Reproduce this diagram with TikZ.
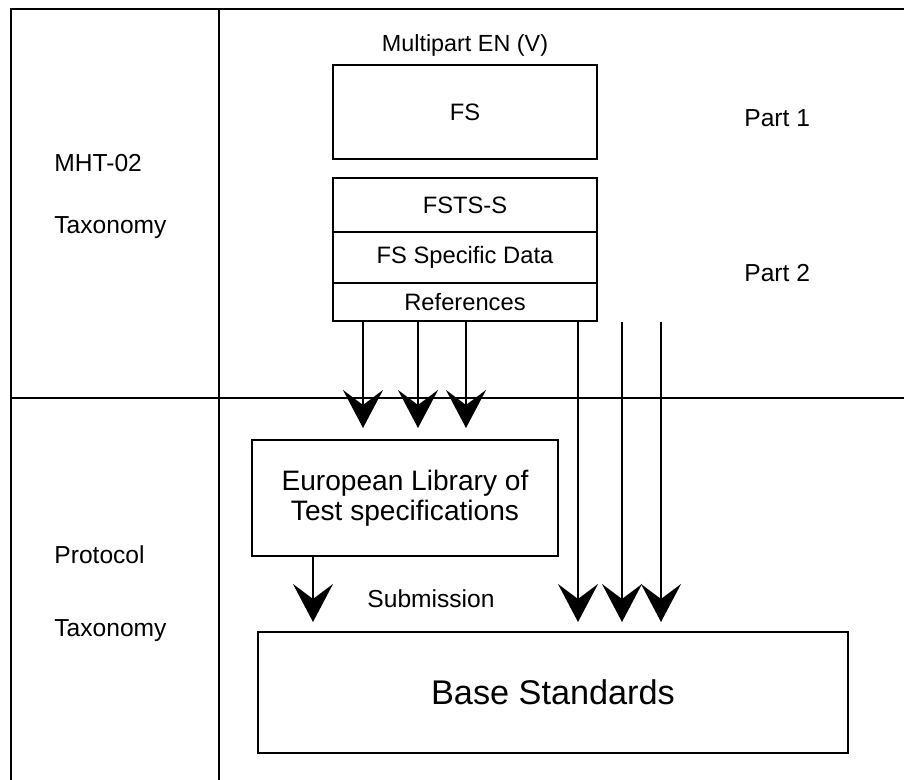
\documentclass[tikz,border=0pt]{standalone}
\usepackage{fontspec}
\setmainfont{Liberation Sans}
\usetikzlibrary{arrows.meta}
\tikzstyle{box}=[rectangle,draw=black!100,line width=1.6pt,inner sep=0pt,
font=\fontsize{13.5}{16}\selectfont]
\tikzstyle{txt}=[inner sep=0pt,font=\fontsize{14}{16}\selectfont]
\tikzstyle{flow}=[-{Stealth[length=0.76cm,width=0.8cm,inset=0.3cm]},
line width=1.2pt]

\begin{document}
\begin{tikzpicture}[x=0.02cm,y=-0.02cm,line width=1.6pt]

	\useasboundingbox (0,0) rectangle (904,780);

	\draw (904,9) -- (11,9) -- (11,780);
	\draw (219,9) -- (219,780);
	\draw (11,398) -- (904,398);

	\node  (mpen)  at (465,45)    [txt,font=\fontsize{13.3}{16}\selectfont] {Multipart EN (V)};
	\node  (fs)    at (465,112)   [box,minimum width=5.28cm,minimum height=1.88cm] {FS};
	\node  (fsts)  at (465,205)   [box,minimum width=5.28cm,minimum height=1.08cm] {FSTS-S};
	\node  (data)  at (465,257.5) [box,minimum width=5.28cm,minimum height=1.02cm] {FS Specific Data};
	\node  (refs)  at (465,302)   [box,minimum width=5.28cm,minimum height=0.76cm] {References};
	\node  (p1)    at (743,118)   [txt,anchor=west] {Part 1};
	\node  (p2)    at (743,273)   [txt,anchor=west] {Part 2};
	\node  (mht)   at (53,163)    [txt,anchor=west] {MHT-02};
	\node  (tax1)  at (53,228)    [txt,anchor=west] {Taxonomy};
	\node  (prot)  at (53,555)    [txt,anchor=west] {Protocol};
	\node  (tax2)  at (53,631)    [txt,anchor=west] {Taxonomy};
	\node  (elts)  at (405,498)   [box,minimum width=6.12cm,minimum height=2.32cm,
		align=center,font=\fontsize{16}{17}\selectfont] {European Library of\\Test specifications};
	\node  (sub)   at (431,599)   [txt] {Submission};
	\node  (base)  at (553,692.5) [box,minimum width=11.8cm,minimum height=2.42cm,
		font=\fontsize{19.5}{24}\selectfont] {Base Standards};

	\coordinate (a1) at (363,428);
	\coordinate (a2) at (418,428);
	\coordinate (a3) at (466,428);
	\coordinate (b1) at (578,622);
	\coordinate (b2) at (622,622);
	\coordinate (b3) at (661,622);
	\coordinate (c1) at (313,622);

	\draw [flow] (a1 |- refs.south) to (a1);
	\draw [flow] (a2 |- refs.south) to (a2);
	\draw [flow] (a3 |- refs.south) to (a3);
	\draw [flow] (b1 |- refs.south) to (b1);
	\draw [flow] (b2 |- refs.south) to (b2);
	\draw [flow] (b3 |- refs.south) to (b3);
	\draw [flow] (c1 |- elts.south) to (c1);

\end{tikzpicture}
\end{document}
